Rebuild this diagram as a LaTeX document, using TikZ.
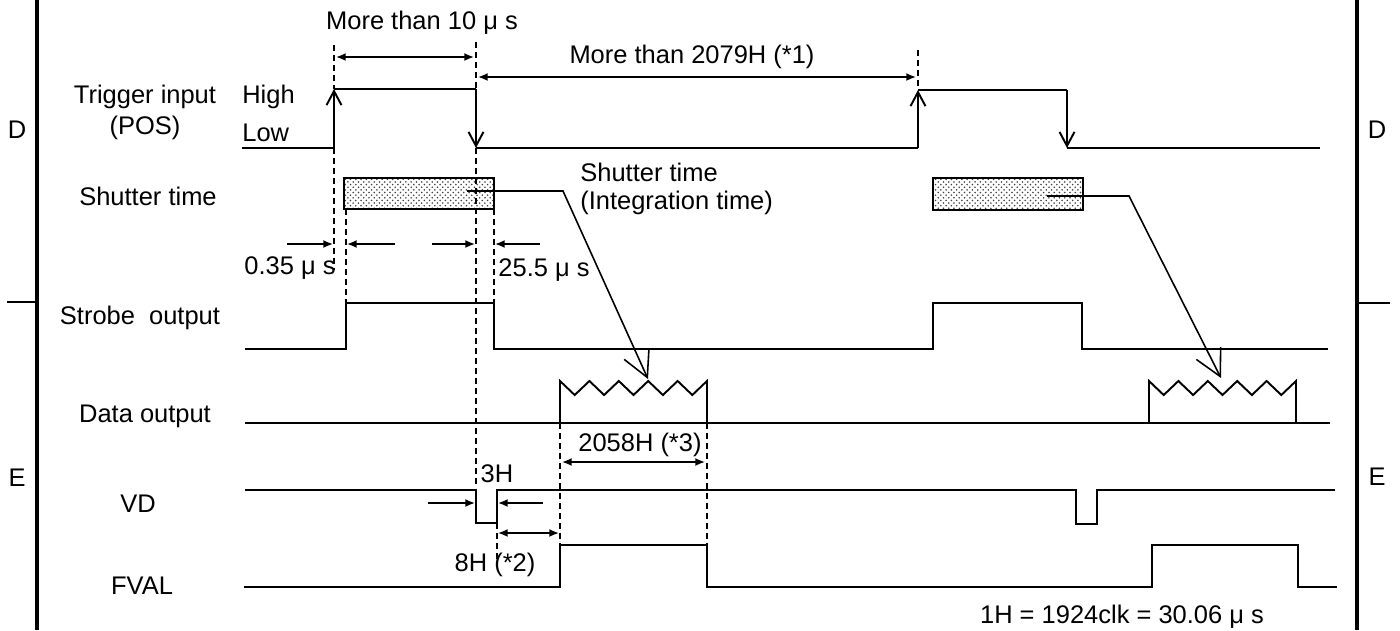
\documentclass[tikz,border=0pt]{standalone}
\usepackage{fontspec}
\setmainfont{Liberation Sans}
\usetikzlibrary{arrows.meta, calc, patterns}

\begin{document}
\begin{tikzpicture}[
    x=0.02cm, y=-0.02cm, % one unit is one pixel of the sheet, y runs down
    >=Latex, % default arrow tip
    sig/.style={line width=1.1pt}, % signal traces
    guide/.style={line width=0.9pt, dash pattern=on 3.4pt off 2.3pt}, % timing guides
    dim/.style={{Latex[length=5.5pt,width=4.5pt]}-{Latex[length=5.5pt,width=4.5pt]}, line width=0.9pt}, % span arrows
    tip/.style={-{Latex[length=5.5pt,width=4.5pt]}, line width=0.9pt}, % one sided span arrows
    edge/.style={sig, -{Straight Barb[length=8pt,width=8.5pt]}}, % trigger edges
    lead/.style={line width=0.9pt, -{Straight Barb[length=14.8pt,width=15.5pt]}}, % leader to data
    shut/.style={draw, line width=1.1pt, pattern=crosshatch dots, pattern color=black!75,
                 minimum width=3cm, minimum height=0.63cm, inner sep=0pt}, % shutter window
    every node/.style={inner sep=0pt, font=\fontsize{14.5}{17}\selectfont}
]
    \useasboundingbox (0,0) rectangle (1400,630);

    % Frame bars and side letters
    \draw[line width=2.8pt] (37,0) -- (37,630);
    \draw[line width=2.8pt] (1357,0) -- (1357,630);
    \draw[line width=0.9pt] (7,302) -- (37,302);
    \draw[line width=0.9pt] (1357,303) -- (1390,303);
    \node (dL) at (17,130) {D};
    \node (dR) at (1377,130) {D};
    \node (eL) at (17,478) {E};
    \node (eR) at (1377,477) {E};

    % Row names
    \node (trg) at (145,97) {Trigger input};
    \node (pos) at (145,128) {(POS)};
    \node[anchor=west] (hi) at (242,97) {High};
    \node[anchor=west] (lo) at (242,133) {Low};
    \node (shn) at (148,196) {Shutter time};
    \node (stb) at (140,318) {Strobe~~output};
    \node (dat) at (145,416) {Data output};
    \node (vdn) at (138,504) {VD};
    \node (fvn) at (142,586) {FVAL};

    % Timing guides
    \draw[guide] (334,45) -- (334,89);
    \draw[guide] (334,148) -- (334,270);
    \draw[guide] (476,42) -- (476,89);
    \draw[guide] (476,148) -- (476,490);
    \draw[guide] (918,50) -- (918,89);

    % Shutter windows
    \node[shut] (sh1) at (419,193.5) {};
    \node[shut] (sh2) at (1008,194) {};
    \draw[guide] (476,178) -- (476,209); % guide seen through the window
    \draw[guide] (346,209) -- (346,303);
    \draw[guide] (494,209) -- (494,303);

    % Trigger input
    \draw[sig] (242,148) -- (334,148);
    \draw[edge] (334,148) -- (334,89);
    \draw[sig] (334,89) -- (476,89);
    \draw[edge] (476,89) -- (476,148);
    \draw[sig] (476,148) -- (918,148);
    \draw[edge] (918,148) -- (918,90);
    \draw[sig] (918,90) -- (1067,90);
    \draw[edge] (1067,90) -- (1067,148);
    \draw[sig] (1067,148) -- (1320,148);

    % Strobe output
    \draw[sig] (245,349) -- (346,349) -- (346,303) -- (494,303) -- (494,349)
        -- (933,349) -- (933,303) -- (1082,303) -- (1082,349) -- (1328,349);

    % Data output
    \draw[sig] (245,423) -- (1330,423);
    \foreach \xs in {560,1149}
        \draw[sig] (\xs,423) -- (\xs,381)
            \foreach \k in {1,...,5} { -- ++(14.7,14) -- ++(14.7,-14) } -- ++(0,42);

    % VD
    \draw[sig] (245,490) -- (476,490) -- (476,523) -- (497,523) -- (497,490)
        -- (1076,490) -- (1076,524) -- (1097,524) -- (1097,490) -- (1335,490);

    % FVAL
    \draw[sig] (244,587) -- (560,587) -- (560,545) -- (707,545) -- (707,587)
        -- (1152,587) -- (1152,545) -- (1298,545) -- (1298,587) -- (1337,587);
    \draw[guide] (497,523) -- (497,560);
    \draw[guide] (560,423) -- (560,545);
    \draw[guide] (707,423) -- (707,545);

    % Leaders from the windows to the data
    \coordinate (in1) at (467,191);
    \coordinate (bend1) at (563,191);
    \coordinate (peak1) at (648,379);
    \draw[lead] (in1) -- (bend1) -- (peak1);
    \coordinate (in2) at (1047,196);
    \coordinate (bend2) at (1129,196);
    \coordinate (peak2) at (1221,378);
    \draw[lead] (in2) -- (bend2) -- (peak2);
    \node[anchor=west] (itx1) at (580,172) {Shutter time};
    \node[anchor=west] (itx2) at (580,203) {(Integration time)};

    % Spans
    \coordinate (a1) at (336,57);
    \coordinate (a2) at (474,57);
    \draw[dim] (a1) -- (a2);
    \node (m10) at (422,23) {More than 10 μ s};
    \coordinate (b1) at (478,77);
    \coordinate (b2) at (916,77);
    \draw[dim] (b1) -- (b2);
    \node (m2079) at (692,57) {More than 2079H (*1)};

    \coordinate (c0) at (287,244);
    \coordinate (c1) at (333,244);
    \coordinate (c2) at (395,244);
    \coordinate (c3) at (347,244);
    \coordinate (c4) at (432,244);
    \coordinate (c5) at (475,244);
    \coordinate (c6) at (540,244);
    \coordinate (c7) at (495,244);
    \draw[tip] (c0) -- (c1);
    \draw[tip] (c2) -- (c3);
    \draw[tip] (c4) -- (c5);
    \draw[tip] (c6) -- (c7);
    \node (t035) at (290,268) {0.35 μ s};
    \node (t255) at (544,270) {25.5 μ s};

    \coordinate (d1) at (562,462);
    \coordinate (d2) at (705,462);
    \draw[dim] (d1) -- (d2);
    \node (h2058) at (640,445) {2058H (*3)};

    \coordinate (e0) at (428,503);
    \coordinate (e1) at (475,503);
    \coordinate (e2) at (543,503);
    \coordinate (e3) at (498,503);
    \draw[tip] (e0) -- (e1);
    \draw[tip] (e2) -- (e3);
    \node (h3) at (497,474) {3H};

    \coordinate (f1) at (498,533);
    \coordinate (f2) at (559,533);
    \draw[dim] (f1) -- (f2);
    \node (h8) at (495,565) {8H (*2)};

    \node (note) at (1122,617) {1H = 1924clk = 30.06 μ s};

\end{tikzpicture}
\end{document}
